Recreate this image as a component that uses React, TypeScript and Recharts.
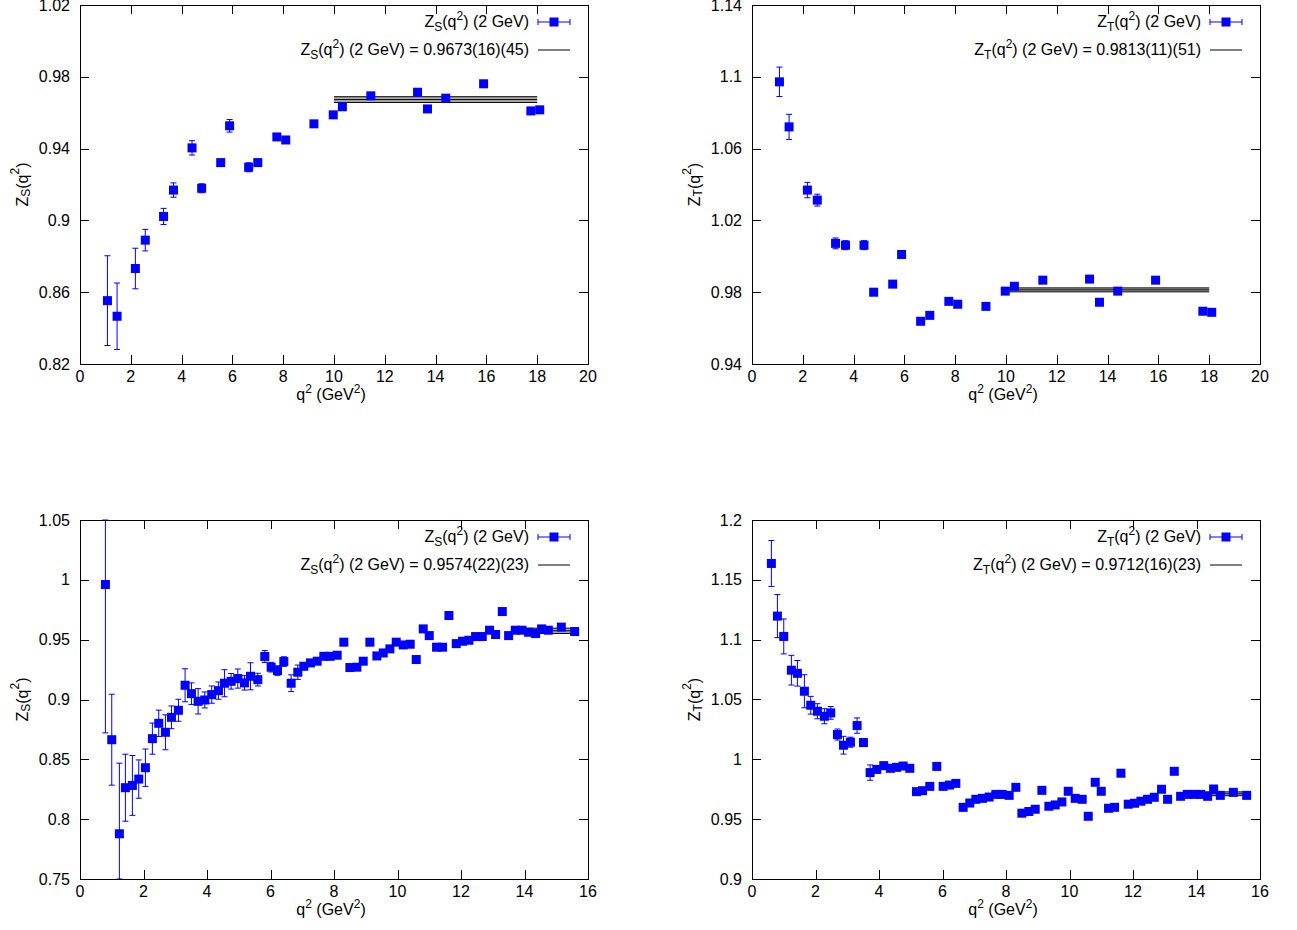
import React from "react";
import {
  ComposedChart,
  Scatter,
  ErrorBar,
  Line,
  Area,
  XAxis,
  YAxis,
  Legend,
  Label,
} from "recharts";

const FONT = "'Liberation Sans', Arial, Helvetica, sans-serif";
const BLUE = "#0000ff";

// top row: coarse set of momenta
const q2Coarse = [1.08, 1.46, 2.18, 2.57, 3.29, 3.68, 4.41, 4.79, 5.54, 5.89, 6.64, 7.0, 7.75, 8.1, 9.21, 9.97, 10.33, 11.45, 13.29, 13.68, 14.4, 15.89, 17.75, 18.1];
const zsCoarse = [0.8553, 0.8466, 0.8732, 0.889, 0.9022, 0.9169, 0.9404, 0.9179, 0.9322, 0.9527, 0.9296, 0.9322, 0.9465, 0.9448, 0.9538, 0.9588, 0.9633, 0.9694, 0.9714, 0.9621, 0.9681, 0.9761, 0.961, 0.9616];
const zsCoarseErr = [0.025, 0.0185, 0.0113, 0.006, 0.0045, 0.004, 0.004, 0.0025, 0.0015, 0.0035, 0.0025, 0.0015, 0.0012, 0.001, 0.001, 0.001, 0.001, 0.001, 0.001, 0.001, 0.001, 0.001, 0.001, 0.001];
const ztCoarse = [1.0972, 1.0721, 1.0369, 1.0313, 1.0072, 1.0062, 1.0062, 0.98, 0.9845, 1.001, 0.9638, 0.9671, 0.9749, 0.9733, 0.9721, 0.9806, 0.9833, 0.9867, 0.9873, 0.9744, 0.9806, 0.9867, 0.9694, 0.9688];
const ztCoarseErr = [0.0082, 0.007, 0.0043, 0.0033, 0.003, 0.0025, 0.0025, 0.001, 0.001, 0.0015, 0.001, 0.001, 0.001, 0.001, 0.001, 0.001, 0.001, 0.001, 0.001, 0.001, 0.001, 0.001, 0.001, 0.001];

// bottom row: fine set of momenta (Z_S has no point at the first one)
const q2Fine = [
  0.61, 0.8, 1.0, 1.24, 1.43, 1.65, 1.85, 2.06, 2.28, 2.48,
  2.69, 2.88, 3.1, 3.31, 3.51, 3.72, 3.93, 4.15, 4.36, 4.55,
  4.76, 4.97, 5.18, 5.37, 5.6, 5.82, 6.02, 6.22, 6.42, 6.65,
  6.86, 7.05, 7.26, 7.47, 7.68, 7.88, 8.1, 8.31, 8.5, 8.72,
  8.92, 9.13, 9.35, 9.55, 9.76, 9.96, 10.18, 10.4, 10.59, 10.81,
  11.0, 11.23, 11.42, 11.62, 11.85, 12.05, 12.25, 12.46, 12.67, 12.9,
  13.09, 13.3, 13.5, 13.71, 13.92, 14.13, 14.35, 14.54, 14.75, 15.16,
  15.58,
];
const zsFine = [
  0.9961, 0.8664, 0.7878, 0.8263, 0.8282, 0.8335, 0.843, 0.8673, 0.8801, 0.8726,
  0.8851, 0.891, 0.9119, 0.9049, 0.8985, 0.8996, 0.9041, 0.9074, 0.9136, 0.9152,
  0.9175, 0.9139, 0.9194, 0.9166, 0.9359, 0.927, 0.9242, 0.9317, 0.9136, 0.9228,
  0.9278, 0.9306, 0.932, 0.9361, 0.9361, 0.937, 0.9479, 0.9267, 0.927, 0.932,
  0.9479, 0.9364, 0.9389, 0.9423, 0.9479, 0.9456, 0.9462, 0.9334, 0.959, 0.9534,
  0.9437, 0.9437, 0.9702, 0.9467, 0.9487, 0.9495, 0.9526, 0.9526, 0.9579, 0.9543,
  0.9735, 0.9534, 0.9579, 0.9579, 0.9562, 0.9551, 0.959, 0.9579, 0.9605, 0.9568,
];
const zsFineErr = [
  0.124, 0.038, 0.059, 0.028, 0.025, 0.016, 0.0156, 0.013, 0.011, 0.0146,
  0.0095, 0.0092, 0.0138, 0.009, 0.0106, 0.0067, 0.0072, 0.0072, 0.0113, 0.0065,
  0.008, 0.006, 0.0113, 0.0053, 0.005, 0.004, 0.004, 0.004, 0.007, 0.006,
  0.003, 0.0025, 0.0025, 0.0025, 0.0025, 0.002, 0.002, 0.002, 0.002, 0.002,
  0.002, 0.002, 0.002, 0.002, 0.002, 0.002, 0.002, 0.002, 0.002, 0.002,
  0.002, 0.002, 0.002, 0.002, 0.002, 0.002, 0.002, 0.002, 0.002, 0.002,
  0.002, 0.002, 0.002, 0.002, 0.002, 0.002, 0.002, 0.002, 0.002, 0.002,
];
const ztFine = [
  1.1637, 1.1197, 1.1027, 1.0745, 1.0719, 1.0569, 1.0452, 1.0402, 1.036, 1.0388,
  1.0207, 1.0118, 1.0143, 1.0282, 1.014, 0.9889, 0.9916, 0.9947, 0.9925, 0.9933,
  0.9944, 0.9925, 0.973, 0.9738, 0.9774, 0.9941, 0.9774, 0.9785, 0.9799, 0.9599,
  0.9635, 0.9666, 0.9674, 0.9685, 0.9707, 0.9707, 0.9699, 0.9766, 0.955, 0.9564,
  0.9583, 0.9741, 0.9608, 0.9619, 0.9644, 0.9733, 0.9674, 0.9666, 0.9524, 0.9808,
  0.9733, 0.9591, 0.9599, 0.9884, 0.9625, 0.9633, 0.965, 0.9666, 0.9683, 0.975,
  0.9666, 0.99, 0.9691, 0.9707, 0.9707, 0.9707, 0.9691, 0.9752, 0.9699, 0.9724,
  0.9699,
];
const ztFineErr = [
  0.0192, 0.018, 0.0146, 0.0124, 0.0107, 0.0138, 0.0074, 0.0063, 0.0063, 0.0053,
  0.0046, 0.0074, 0.0042, 0.0064, 0.003, 0.0064, 0.003, 0.003, 0.002, 0.002,
  0.002, 0.002, 0.002, 0.002, 0.002, 0.002, 0.002, 0.002, 0.002, 0.003,
  0.0015, 0.0015, 0.0015, 0.0015, 0.0015, 0.0015, 0.0015, 0.0015, 0.0015, 0.0015,
  0.0015, 0.0015, 0.0015, 0.0015, 0.0015, 0.0015, 0.0015, 0.0015, 0.0015, 0.0015,
  0.0015, 0.0015, 0.0015, 0.0015, 0.0015, 0.0015, 0.0015, 0.0015, 0.0015, 0.0015,
  0.0015, 0.0015, 0.0015, 0.0015, 0.0015, 0.0015, 0.0015, 0.0015, 0.0015, 0.0015,
  0.0015,
];

// fits: [value, stat error] and the q2 range used
const fitZsCoarse = [0.9673, 0.0016];
const fitZtCoarse = [0.9813, 0.0011];
const fitZsFine = [0.9574, 0.0022];
const fitZtFine = [0.9712, 0.0016];
const fitRangeCoarse = [10, 18];
const fitRangeFine = [14, 15.55];

// axes
const xTicksCoarse = [0, 2, 4, 6, 8, 10, 12, 14, 16, 18, 20];
const xTicksFine = [0, 2, 4, 6, 8, 10, 12, 14, 16];
const yTicksZsCoarse = [0.82, 0.86, 0.9, 0.94, 0.98, 1.02];
const yTicksZtCoarse = [0.94, 0.98, 1.02, 1.06, 1.1, 1.14];
const yTicksZsFine = [0.75, 0.8, 0.85, 0.9, 0.95, 1, 1.05];
const yTicksZtFine = [0.9, 0.95, 1, 1.05, 1.1, 1.15, 1.2];

const PLOT_W = 508;
const PLOT_H = 359;
const CHART_W = 648;
const CHART_H = 465;
const TICK_LEN = 9;

const toPoints = (xs: number[], ys: number[], errs: number[]) =>
  ys.map((y, i) => ({ x: xs[i], y, err: errs[i] }));

const toFit = (range: number[], fit: number[]) =>
  range.map((x) => ({ x, c: fit[0], lo: fit[0] - fit[1], hi: fit[0] + fit[1], band: [fit[0] - fit[1], fit[0] + fit[1]] }));

const XTickLabel = (props: any) => {
  const { x, y, payload } = props;
  return (
    <text x={x} y={y + 18} textAnchor="middle" fontSize={16} fontFamily={FONT} fill="#000">
      {payload.value}
    </text>
  );
};

const YTickLabel = (props: any) => {
  const { x, y, payload } = props;
  return (
    <text x={x - 10} y={y + 5.5} textAnchor="end" fontSize={16} fontFamily={FONT} fill="#000">
      {payload.value}
    </text>
  );
};

const Square = (props: any) => {
  const { cx, cy } = props;
  if (cx == null || cy == null) return null;
  return <rect x={cx - 4.5} y={cy - 4.5} width={9} height={9} fill={BLUE} />;
};

const ZName = ({ sub }: { sub: string }) => (
  <span>
    Z<sub style={{ fontSize: 12, verticalAlign: -4, lineHeight: 0 }}>{sub}</sub>(q
    <sup style={{ fontSize: 12, verticalAlign: 7, lineHeight: 0 }}>2</sup>) (2 GeV)
  </span>
);

const makeLegend = (sub: string, fitText: string) => () => (
  <div style={{ fontFamily: FONT, fontSize: 16, color: "#000", textAlign: "right", lineHeight: "28px" }}>
    <div style={{ whiteSpace: "nowrap" }}>
      <ZName sub={sub} />
      <svg width={34} height={12} style={{ marginLeft: 8, verticalAlign: -1 }}>
        <line x1={1} y1={6} x2={33} y2={6} stroke={BLUE} />
        <line x1={1} y1={3} x2={1} y2={9} stroke={BLUE} />
        <line x1={33} y1={3} x2={33} y2={9} stroke={BLUE} />
        <rect x={12.5} y={1.5} width={9} height={9} fill={BLUE} />
      </svg>
    </div>
    <div style={{ whiteSpace: "nowrap" }}>
      <ZName sub={sub} /> = {fitText}
      <svg width={34} height={12} style={{ marginLeft: 8, verticalAlign: -1 }}>
        <line x1={1} y1={6} x2={33} y2={6} stroke="#000" />
      </svg>
    </div>
  </div>
);

// border box with inward ticks on all four sides (gnuplot style),
// drawn as filled thin rectangles laid over the plot area of a panel
const Frame = ({ left, top, xDomain, xTicks, yDomain, yTicks }: any) => {
  const px = (t: number) => left + ((t - xDomain[0]) / (xDomain[1] - xDomain[0])) * PLOT_W;
  const py = (t: number) => top + PLOT_H - ((t - yDomain[0]) / (yDomain[1] - yDomain[0])) * PLOT_H;
  const bars: { x: number; y: number; w: number; h: number }[] = [];
  xTicks.forEach((t: number) => {
    const x = Math.round(px(t)) - 0.5;
    bars.push({ x, y: top + PLOT_H - TICK_LEN, w: 1, h: TICK_LEN });
    bars.push({ x, y: top, w: 1, h: TICK_LEN });
  });
  yTicks.forEach((t: number) => {
    const y = Math.round(py(t)) - 0.5;
    bars.push({ x: left, y, w: TICK_LEN, h: 1 });
    bars.push({ x: left + PLOT_W - TICK_LEN, y, w: TICK_LEN, h: 1 });
  });
  // the four sides of the box
  bars.push({ x: left - 0.5, y: top - 0.5, w: PLOT_W + 1, h: 1.2 });
  bars.push({ x: left - 0.5, y: top + PLOT_H - 0.5, w: PLOT_W + 1, h: 1.2 });
  bars.push({ x: left - 0.5, y: top - 0.5, w: 1.2, h: PLOT_H + 1 });
  bars.push({ x: left + PLOT_W - 0.5, y: top - 0.5, w: 1.2, h: PLOT_H + 1 });
  return (
    <div style={{ position: "absolute", left: 0, top: 0, width: CHART_W, height: CHART_H, pointerEvents: "none", zIndex: 5 }}>
      {bars.map((b, i) => (
        <div
          key={i}
          style={{ position: "absolute", left: b.x, top: b.y, width: b.w, height: b.h, background: "#000" }}
        />
      ))}
    </div>
  );
};

interface PanelProps {
  left: number;
  top: number;
  yAxisWidth: number;
  marginTop: number;
  sub: string;
  fitText: string;
  points: { x: number; y: number; err: number }[];
  fit: any[];
  xDomain: number[];
  xTicks: number[];
  yDomain: number[];
  yTicks: number[];
}

const Panel: React.FC<PanelProps> = ({ left, top, yAxisWidth, marginTop, sub, fitText, points, fit, xDomain, xTicks, yDomain, yTicks }) => {
  const marginRight = CHART_W - yAxisWidth - PLOT_W;
  const marginBottom = CHART_H - marginTop - PLOT_H - 50;
  const yTitleX = yAxisWidth - 58;
  const yTitleY = marginTop + PLOT_H / 2;
  const xTitleX = yAxisWidth + PLOT_W / 2 - 3;
  const xTitleY = marginTop + PLOT_H + 36;
  const legendRight = yAxisWidth + PLOT_W - 17;

  // error bars stop at the frame, like the clipped bars of the original plot
  const shown = points.map((p) => ({
    ...p,
    errShown: [Math.min(p.err, p.y - yDomain[0]), Math.min(p.err, yDomain[1] - p.y)],
  }));

  return (
    <div style={{ position: "absolute", left, top, width: CHART_W, height: CHART_H }}>
      <ComposedChart
        width={CHART_W}
        height={CHART_H}
        margin={{ top: marginTop, right: marginRight, bottom: marginBottom, left: 0 }}
      >
        <XAxis
          type="number"
          dataKey="x"
          domain={xDomain}
          ticks={xTicks}
          interval={0}
          allowDataOverflow
          axisLine={false}
          tickLine={false}
          tickSize={0}
          tickMargin={0}
          height={50}
          tick={<XTickLabel />}
        >
          <Label
            content={() => (
              <text x={xTitleX} y={xTitleY} textAnchor="middle" fontSize={16} fontFamily={FONT} fill="#000">
                q<tspan dy={-7} fontSize={12}>2</tspan>
                <tspan dy={7}> (GeV</tspan>
                <tspan dy={-7} fontSize={12}>2</tspan>
                <tspan dy={7}>)</tspan>
              </text>
            )}
          />
        </XAxis>
        <YAxis
          type="number"
          domain={yDomain}
          ticks={yTicks}
          interval={0}
          allowDataOverflow
          axisLine={false}
          tickLine={false}
          tickSize={0}
          tickMargin={0}
          width={yAxisWidth}
          tick={<YTickLabel />}
        >
          <Label
            content={() => (
              <text
                x={yTitleX}
                y={yTitleY}
                transform={`rotate(-90 ${yTitleX} ${yTitleY})`}
                textAnchor="middle"
                dominantBaseline="central"
                fontSize={16}
                fontFamily={FONT}
                fill="#000"
              >
                Z<tspan dy={4} fontSize={12}>{sub}</tspan>
                <tspan dy={-4}>(q</tspan>
                <tspan dy={-7} fontSize={12}>2</tspan>
                <tspan dy={7}>)</tspan>
              </text>
            )}
          />
        </YAxis>
        <Legend
          layout="vertical"
          align="center"
          verticalAlign="middle"
          content={makeLegend(sub, fitText)}
          wrapperStyle={{ left: legendRight - 420, top: marginTop + 3, width: 420, height: "auto" }}
        />
        <Scatter data={shown} dataKey="y" fill={BLUE} shape={<Square />} isAnimationActive={false}>
          <ErrorBar dataKey="errShown" direction="y" width={3} stroke={BLUE} strokeWidth={1} isAnimationActive={false} />
        </Scatter>
        <Area
          data={fit}
          dataKey="band"
          type="linear"
          stroke="none"
          fill="#8c8c8c"
          fillOpacity={0.7}
          dot={false}
          activeDot={false}
          isAnimationActive={false}
        />
        <Line data={fit} dataKey="hi" type="linear" stroke="#000" strokeWidth={1} dot={false} activeDot={false} isAnimationActive={false} />
        <Line data={fit} dataKey="c" type="linear" stroke="#000" strokeWidth={1} dot={false} activeDot={false} isAnimationActive={false} />
        <Line data={fit} dataKey="lo" type="linear" stroke="#000" strokeWidth={1} dot={false} activeDot={false} isAnimationActive={false} />
      </ComposedChart>
      <Frame left={yAxisWidth} top={marginTop} xDomain={xDomain} xTicks={xTicks} yDomain={yDomain} yTicks={yTicks} />
    </div>
  );
};

export default function App() {
  return (
    <div style={{ position: "absolute", left: 0, top: 0, width: 1297, height: 930, background: "#fff", fontFamily: FONT }}>
      <Panel
        left={0}
        top={0}
        yAxisWidth={80}
        marginTop={5}
        sub="S"
        fitText="0.9673(16)(45)"
        points={toPoints(q2Coarse, zsCoarse, zsCoarseErr)}
        fit={toFit(fitRangeCoarse, fitZsCoarse)}
        xDomain={[0, 20]}
        xTicks={xTicksCoarse}
        yDomain={[0.82, 1.02]}
        yTicks={yTicksZsCoarse}
      />
      <Panel
        left={648}
        top={0}
        yAxisWidth={104}
        marginTop={5}
        sub="T"
        fitText="0.9813(11)(51)"
        points={toPoints(q2Coarse, ztCoarse, ztCoarseErr)}
        fit={toFit(fitRangeCoarse, fitZtCoarse)}
        xDomain={[0, 20]}
        xTicks={xTicksCoarse}
        yDomain={[0.94, 1.14]}
        yTicks={yTicksZtCoarse}
      />
      <Panel
        left={0}
        top={465}
        yAxisWidth={80}
        marginTop={55}
        sub="S"
        fitText="0.9574(22)(23)"
        points={toPoints(q2Fine.slice(1), zsFine, zsFineErr)}
        fit={toFit(fitRangeFine, fitZsFine)}
        xDomain={[0, 16]}
        xTicks={xTicksFine}
        yDomain={[0.75, 1.05]}
        yTicks={yTicksZsFine}
      />
      <Panel
        left={648}
        top={465}
        yAxisWidth={104}
        marginTop={55}
        sub="T"
        fitText="0.9712(16)(23)"
        points={toPoints(q2Fine, ztFine, ztFineErr)}
        fit={toFit(fitRangeFine, fitZtFine)}
        xDomain={[0, 16]}
        xTicks={xTicksFine}
        yDomain={[0.9, 1.2]}
        yTicks={yTicksZtFine}
      />
    </div>
  );
}
